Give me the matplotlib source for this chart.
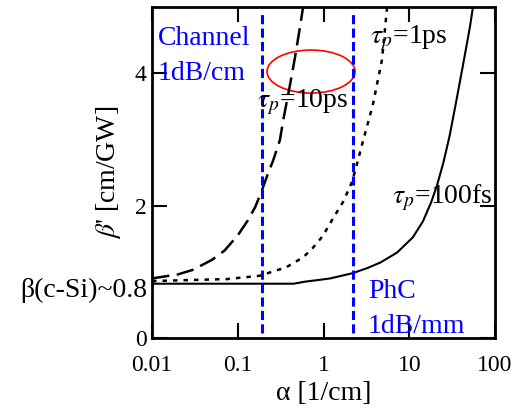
import matplotlib
matplotlib.use("Agg")
import matplotlib.pyplot as plt
from matplotlib.patches import Ellipse

plt.rcParams['font.family'] = ['Liberation Serif', 'DejaVu Serif']
plt.rcParams['mathtext.fontset'] = 'stix'

# values
alpha_100fs = [0.01, 0.1, 0.45, 0.6, 0.8, 1.2, 2.2, 3.3, 4.6, 7.2, 11, 14.4, 18, 21,
               25, 29.5, 35, 42, 51, 55]
beta_100fs = [0.82, 0.82, 0.82, 0.85, 0.87, 0.90, 0.98, 1.06, 1.14, 1.29, 1.52, 1.76, 2.05, 2.3,
              2.65, 3.05, 3.55, 4.1, 4.7, 4.98]

alpha_10ps = [0.01, 0.02, 0.03, 0.05, 0.07, 0.1, 0.13, 0.16, 0.19, 0.22, 0.26, 0.31, 0.34, 0.41, 0.465, 0.53, 0.575]
beta_10ps = [0.90, 0.96, 1.03, 1.18, 1.32, 1.55, 1.77, 1.98, 2.22, 2.45, 2.69, 2.99, 3.30, 3.85, 4.24, 4.69, 4.98]

alpha_1ps = [0.01, 0.075, 0.18, 0.37, 0.58, 0.75, 0.98, 1.28, 1.68, 1.93, 2.15, 2.47, 2.88, 3.3, 3.8, 4.8, 5.5]
beta_1ps = [0.86, 0.89, 0.94, 1.07, 1.22, 1.36, 1.54, 1.80, 2.05, 2.22, 2.36, 2.64, 2.97, 3.25, 3.55, 4.2, 4.98]

loss_channel = 0.19   # 1 dB/cm
loss_phc = 2.2        # 1 dB/mm

xticks = [0.01, 0.1, 1, 10, 100]
xtick_labels = ['0.01', '0.1', '1', '10', '100']
yticks = [0, 2, 4]
ytick_labels = ['0', '2', '4']

fig = plt.figure(figsize=(5.19, 4.08), dpi=100)
ax = fig.add_axes([0.2929, 0.1716, 0.6609, 0.8112])

ax.plot(alpha_100fs, beta_100fs, color='black', lw=1.5, ls='-')
ax.plot(alpha_10ps, beta_10ps, color='black', lw=1.8, ls=(0, (7, 3)))
ax.plot(alpha_1ps, beta_1ps, color='black', lw=1.8, ls=(0, (1.8, 2.4)))

for a in (loss_channel, loss_phc):
    ax.axvline(a, ymin=0.015, ymax=0.985, color='blue', lw=2.2, ls=(0, (3, 1.4)))

ax.add_patch(Ellipse((0.4636, 0.805), 0.2566, 0.130, transform=ax.transAxes,
                     fill=False, ec='red', lw=1.2))

ax.set_xscale('log')
ax.set_xlim(0.01, 100)
ax.set_ylim(0, 5)
ax.set_xticks(xticks)
ax.set_xticklabels(xtick_labels)
ax.set_yticks(yticks)
ax.set_yticklabels(ytick_labels)
ax.minorticks_off()
ax.tick_params(direction='in', length=11, width=1.5, top=True, right=True,
               labelsize=17)
ax.tick_params(axis='x', pad=12)
ax.tick_params(axis='y', pad=4)
for s in ax.spines.values():
    s.set_linewidth(2)

ax.set_xlabel('α [1/cm]', fontsize=20, labelpad=4)
ax.set_ylabel(r"$\beta$' [cm/GW]", fontsize=20)
ax.yaxis.set_label_coords(-0.085, 0.5)

txt = dict(fontsize=20, va='baseline')
ax.text(0.0117, 4.42, 'Channel', color='blue', **txt)
ax.text(0.0117, 3.89, '1dB/cm', color='blue', **txt)
ax.text(3.3, 0.60, 'PhC', color='blue', **txt)
ax.text(3.3, 0.075, '1dB/mm', color='blue', **txt)
ax.text(3.48, 4.45, r'$\tau_p$=1ps', **txt)
ax.text(0.168, 3.49, r'$\tau_p$=10ps', **txt)
ax.text(6.3, 2.04, r'$\tau_p$=100fs', **txt)
ax.text(-0.015, 0.62, 'β(c-Si)~0.8', ha='right', fontsize=20, va='baseline',
        transform=ax.get_yaxis_transform())

fig.savefig('out.png', dpi=100)
